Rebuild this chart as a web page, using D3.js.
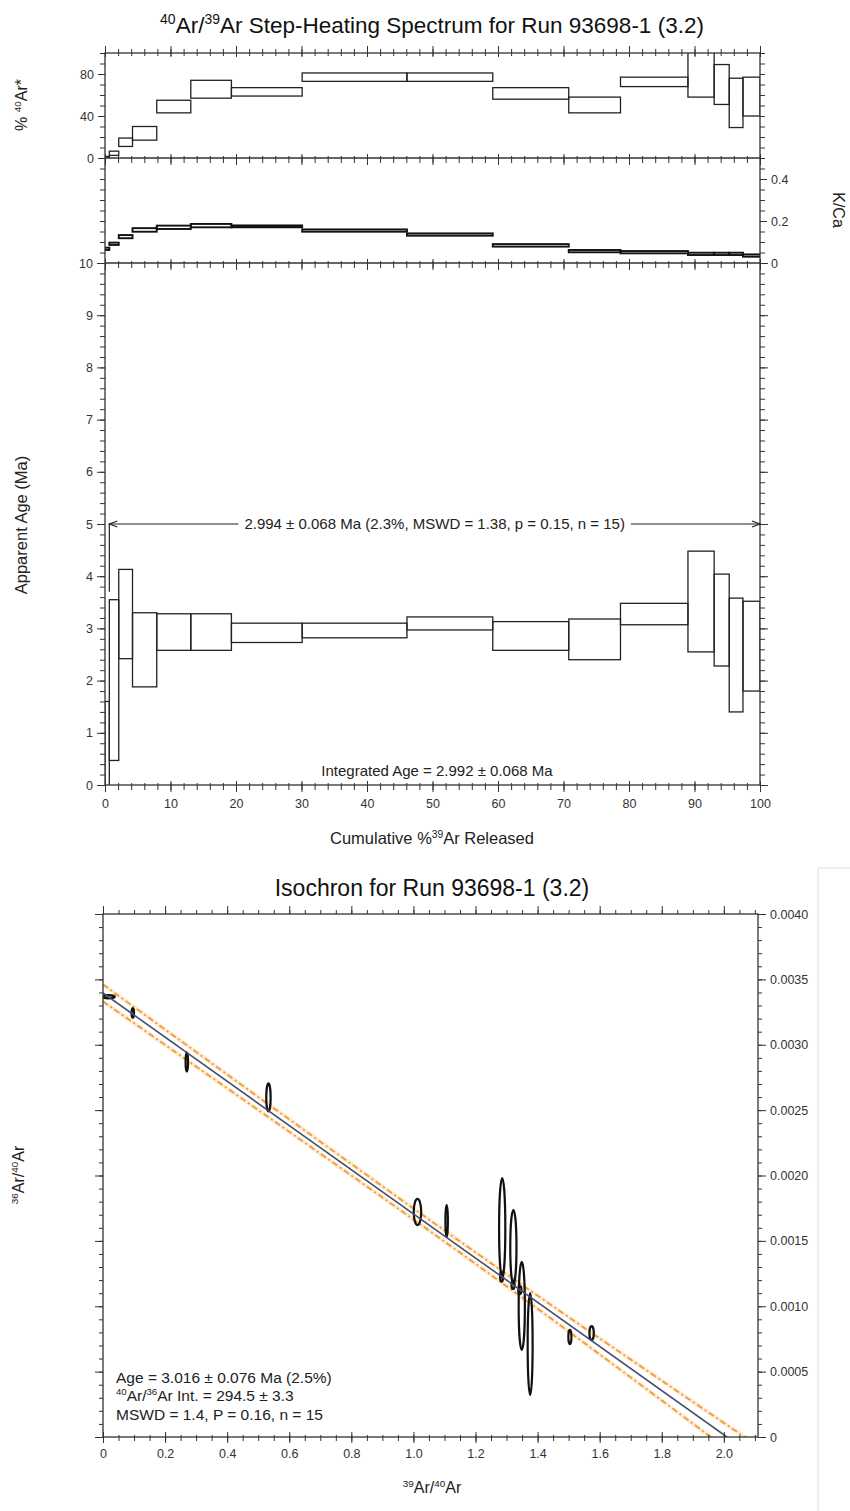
<!DOCTYPE html>
<html>
<head>
<meta charset="utf-8">
<script src="https://cdn.jsdelivr.net/npm/d3@7"></script>
<style>
  body { margin: 0; background: #fff; }
  svg { font-family: "Liberation Sans", Arial, Helvetica, sans-serif; }
  .box { fill: none; stroke: #222; stroke-width: 1.3; }
  .kc { fill: none; stroke: #111; stroke-width: 1.9; }
  .tick line { stroke: #333; }
  .tick text { font-size: 12.5px; fill: #333; }
  .frame { fill: none; stroke: #333; stroke-width: 1.3; }
</style>
</head>
<body>
<script>
// ---- step heating data (cumulative % 39Ar at step edges) ----
var stepEdges = [0, 0.66, 2.1, 4.2, 7.9, 13.1, 19.3, 30.1, 46.1, 59.2, 70.8, 78.7, 89.0, 93.0, 95.3, 97.4, 100];
var arLo = [0, 2.5, 11, 17, 43, 57, 59, 73, 73, 56, 43, 68, 58, 51, 29, 40];
var arHi = [1.5, 6.5, 19, 30, 55, 74, 67, 81, 81, 67, 58, 77, 105, 89, 76, 77];
var kcLo = [0.062, 0.086, 0.118, 0.149, 0.162, 0.170, 0.170, 0.149, 0.130, 0.078, 0.051, 0.046, 0.038, 0.038, 0.038, 0.030];
var kcHi = [0.073, 0.097, 0.133, 0.166, 0.178, 0.186, 0.179, 0.160, 0.141, 0.090, 0.062, 0.057, 0.049, 0.049, 0.049, 0.041];
var ageLo = [-1, 0.47, 2.42, 1.88, 2.58, 2.58, 2.73, 2.82, 2.97, 2.58, 2.40, 3.07, 2.55, 2.28, 1.40, 1.80];
var ageHi = [1.6, 3.55, 4.13, 3.30, 3.28, 3.28, 3.10, 3.10, 3.22, 3.13, 3.18, 3.48, 4.48, 4.04, 3.58, 3.52];
var plateauFrom = 0.66, plateauTo = 100, plateauLabelAge = 5.0;
var plateauText = "2.994 \u00b1 0.068 Ma (2.3%, MSWD = 1.38, p = 0.15, n = 15)";
var integratedText = "Integrated Age = 2.992 \u00b1 0.068 Ma";

// ---- isochron data ----
var isoX = [0.018, 0.096, 0.270, 0.533, 1.013, 1.107, 1.286, 1.322, 1.349, 1.376, 1.504, 1.574, 1.284, 1.321, 1.343];
var isoY = [0.003367, 0.003243, 0.002868, 0.002597, 0.001721, 0.001652, 0.001598, 0.001453, 0.001002, 0.000711, 0.000765, 0.000795, 0.001226, 0.001163, 0.001124];
var isoErrX = [0.02, 0.004, 0.004, 0.007, 0.012, 0.004, 0.010, 0.010, 0.010, 0.008, 0.005, 0.007, 0.005, 0.005, 0.005];
var isoErrY = [0.000012, 0.000038, 0.000073, 0.000107, 0.0001, 0.000122, 0.000382, 0.000283, 0.000337, 0.00039, 0.000054, 0.000054, 0.000038, 0.000031, 0.000031];
var fitLine = [[0, 0.003396], [2.01, 0]];
var envX = [0, 0.5, 1.0, 1.5, 2.11];
var envUpper = [0.003461, 0.002601, 0.001748, 0.000917, -0.000069];
var envLower = [0.003331, 0.002501, 0.001664, 0.000807, -0.000269];
var isoXTicks = [0, 0.2, 0.4, 0.6, 0.8, 1.0, 1.2, 1.4, 1.6, 1.8, 2.0];
var isoYTicks = [0, 0.0005, 0.001, 0.0015, 0.002, 0.0025, 0.003, 0.0035, 0.004];
var isoText = ["Age =  3.016 \u00b1 0.076 Ma (2.5%)", "Ar Int. =  294.5 \u00b1 3.3", "MSWD = 1.4,  P = 0.16, n = 15"];

var svg = d3.select("body").append("svg").attr("width", 850).attr("height", 1511);

// text with superscripts: parts = [[str, sup], ...]
function supText(g, parts, size) {
  var t = g.append("text").attr("font-size", size);
  var up = false;
  parts.forEach(function(p) {
    var s = t.append("tspan").text(p[0]);
    if (p[1] && !up) { s.attr("dy", -size * 0.38).attr("font-size", size * 0.62); up = true; }
    else if (p[1]) { s.attr("font-size", size * 0.62); }
    else if (up) { s.attr("dy", size * 0.38); up = false; }
  });
  return t;
}

function axis(g, fn, scale, vals, size, fmt, cross) {
  g.call(fn(scale).tickValues(vals).tickSize(size).tickPadding(4).tickFormat(fmt || ""));
  g.select(".domain").remove();
  if (cross) {
    var attr = (fn === d3.axisLeft || fn === d3.axisRight) ? "x1" : "y1";
    g.selectAll(".tick line").attr(attr, cross);
  }
  return g;
}
function rng(a, b, s) { return d3.range(0, Math.round((b - a) / s) + 1).map(function(i) { return a + i * s; }); }

// ================= STEP HEATING =================
var x = d3.scaleLinear().domain([0, 100]).range([105, 760]);
var yAr = d3.scaleLinear().domain([0, 100]).range([158, 53]);
var yKC = d3.scaleLinear().domain([0, 0.5]).range([263, 158]);
var yAge = d3.scaleLinear().domain([0, 10]).range([785, 263]);

supText(svg.append("g").attr("transform", "translate(432,33)").attr("text-anchor", "middle"),
  [["40", 1], ["Ar/", 0], ["39", 1], ["Ar Step-Heating Spectrum for Run 93698-1 (3.2)", 0]], 22.5)
  .attr("fill", "#111");

var defs = svg.append("defs");
function clip(id, y0, y1) {
  defs.append("clipPath").attr("id", id).append("rect")
    .attr("x", x(0)).attr("y", y0).attr("width", x(100) - x(0)).attr("height", y1 - y0);
}
clip("cAr", yAr(100), yAr(0)); clip("cKC", yKC(0.5), yKC(0)); clip("cAge", yAge(10), yAge(0));

var steps = d3.range(stepEdges.length - 1);
function boxes(cls, clipId, yS, lo, hi) {
  svg.append("g").attr("clip-path", "url(#" + clipId + ")").selectAll("rect").data(steps).enter()
    .append("rect").attr("class", cls)
    .attr("x", function(i) { return x(stepEdges[i]); })
    .attr("width", function(i) { return x(stepEdges[i + 1]) - x(stepEdges[i]); })
    .attr("y", function(i) { return yS(hi[i]); })
    .attr("height", function(i) { return yS(lo[i]) - yS(hi[i]); });
}
boxes("box", "cAr", yAr, arLo, arHi);
boxes("kc", "cKC", yKC, kcLo, kcHi);
boxes("box", "cAge", yAge, ageLo, ageHi);

// frames
svg.append("rect").attr("class", "frame").attr("x", x(0)).attr("y", yAr(100))
  .attr("width", x(100) - x(0)).attr("height", yAge(0) - yAr(100));
[yAr(0), yKC(0)].forEach(function(yy) {
  svg.append("line").attr("class", "frame").attr("x1", x(0)).attr("x2", x(100)).attr("y1", yy).attr("y2", yy);
});

// x ticks on each horizontal boundary
var xMinor = rng(0, 100, 2), xMajor = rng(0, 100, 10);
axis(svg.append("g").attr("transform", "translate(0," + yAr(100) + ")"), d3.axisTop, x, xMinor, 4, null, 3);
axis(svg.append("g").attr("transform", "translate(0," + yAr(100) + ")"), d3.axisTop, x, xMajor, 7, null, 4);
[yAr(0), yKC(0)].forEach(function(yy) {
  axis(svg.append("g").attr("transform", "translate(0," + yy + ")"), d3.axisBottom, x, xMinor, 5, null, -2);
  axis(svg.append("g").attr("transform", "translate(0," + yy + ")"), d3.axisBottom, x, xMajor, 7, null, -4);
});
axis(svg.append("g").attr("transform", "translate(0," + yAge(0) + ")"), d3.axisBottom, x, xMinor, 5, null, -2);
axis(svg.append("g").attr("transform", "translate(0," + yAge(0) + ")"), d3.axisBottom, x, xMajor, 7, d3.format("d"), -4)
  .selectAll("text").attr("dy", "0.95em");

// left axes
var L = svg.append("g").attr("transform", "translate(" + x(0) + ",0)");
axis(L.append("g"), d3.axisLeft, yAr, rng(0, 100, 10), 5);
axis(L.append("g"), d3.axisLeft, yAr, [0, 40, 80], 7, d3.format("d"));
axis(L.append("g"), d3.axisLeft, yKC, rng(0.05, 0.45, 0.05), 5);
axis(L.append("g"), d3.axisLeft, yAge, rng(0, 10, 0.2), 5);
axis(L.append("g"), d3.axisLeft, yAge, rng(0, 10, 1), 8, d3.format("d"));
// right axes
var R = svg.append("g").attr("transform", "translate(" + x(100) + ",0)");
axis(R.append("g"), d3.axisRight, yAr, rng(0, 100, 10), 5);
axis(R.append("g"), d3.axisRight, yKC, rng(0, 0.5, 0.05), 5);
axis(R.append("g"), d3.axisRight, yKC, [0, 0.2, 0.4], 7, function(d) { return d === 0 ? "0" : d.toFixed(1); });
axis(R.append("g"), d3.axisRight, yAge, rng(0, 10, 0.2), 5);
axis(R.append("g"), d3.axisRight, yAge, rng(0, 10, 1), 8);

// plateau bracket + arrow
var pa = yAge(plateauLabelAge), px0 = x(plateauFrom), px1 = x(plateauTo);
var pg = svg.append("g").attr("stroke", "#222").attr("stroke-width", 1.2).attr("fill", "none");
pg.append("line").attr("x1", px0).attr("x2", px0).attr("y1", pa).attr("y2", yAge(3.70));
var pt = svg.append("text").attr("x", (px0 + px1) / 2).attr("y", pa + 5).attr("text-anchor", "middle")
  .attr("font-size", 15).attr("fill", "#222").text(plateauText);
var tw = pt.node().getComputedTextLength(), cx = (px0 + px1) / 2;
pg.append("line").attr("x1", px0).attr("x2", cx - tw / 2 - 6).attr("y1", pa).attr("y2", pa);
pg.append("line").attr("x1", cx + tw / 2 + 6).attr("x2", px1).attr("y1", pa).attr("y2", pa);
pg.append("path").attr("d", "M" + (px0 + 8) + "," + (pa - 3) + "L" + px0 + "," + pa + "L" + (px0 + 8) + "," + (pa + 3));
pg.append("path").attr("d", "M" + (px1 - 8) + "," + (pa - 3) + "L" + px1 + "," + pa + "L" + (px1 - 8) + "," + (pa + 3));

svg.append("text").attr("x", 437).attr("y", 776).attr("text-anchor", "middle").attr("font-size", 15)
  .attr("fill", "#222").text(integratedText);

// axis titles
supText(svg.append("g").attr("transform", "translate(27,105) rotate(-90)").attr("text-anchor", "middle"),
  [["% ", 0], ["40", 1], ["Ar*", 0]], 16).attr("fill", "#222");
svg.append("text").attr("transform", "translate(833,210) rotate(90)").attr("text-anchor", "middle")
  .attr("font-size", 16).attr("fill", "#222").text("K/Ca");
svg.append("text").attr("transform", "translate(27,525) rotate(-90)").attr("text-anchor", "middle")
  .attr("font-size", 16.5).attr("fill", "#222").text("Apparent Age (Ma)");
supText(svg.append("g").attr("transform", "translate(432,844)").attr("text-anchor", "middle"),
  [["Cumulative %", 0], ["39", 1], ["Ar Released", 0]], 16.5).attr("fill", "#222");

// ================= ISOCHRON =================
var xi = d3.scaleLinear().domain([0, 2.11]).range([103, 758]);
var yi = d3.scaleLinear().domain([0, 0.004]).range([1437, 914]);

svg.append("text").attr("x", 432).attr("y", 896).attr("text-anchor", "middle").attr("font-size", 23)
  .attr("fill", "#111").text("Isochron for Run 93698-1 (3.2)");

// faint frame on the right of the screenshot
svg.append("path").attr("d", "M850,868H818V1511").attr("fill", "none").attr("stroke", "#ddd");

defs.append("clipPath").attr("id", "cIso").append("rect")
  .attr("x", xi(0)).attr("y", yi(0.004)).attr("width", xi(2.11) - xi(0)).attr("height", yi(0) - yi(0.004));
var ig = svg.append("g").attr("clip-path", "url(#cIso)");

var envLine = d3.line().x(function(d) { return xi(d[0]); }).y(function(d) { return yi(d[1]); }).curve(d3.curveNatural);
[envUpper, envLower].forEach(function(arr) {
  var pts = envX.map(function(v, i) { return [v, arr[i]]; });
  ig.append("path").attr("d", envLine(pts)).attr("fill", "none").attr("stroke", "#fbd7a8")
    .attr("stroke-width", 4).attr("opacity", 0.5);
  ig.append("path").attr("d", envLine(pts)).attr("fill", "none").attr("stroke", "#f29b35")
    .attr("stroke-width", 1.8).attr("stroke-dasharray", "6,3,2,3");
});

ig.selectAll("ellipse").data(d3.range(isoX.length)).enter().append("ellipse")
  .attr("cx", function(i) { return xi(isoX[i]); })
  .attr("cy", function(i) { return yi(isoY[i]); })
  .attr("rx", function(i) { return xi(isoErrX[i]) - xi(0); })
  .attr("ry", function(i) { return yi(0) - yi(isoErrY[i]); })
  .attr("fill", "none").attr("stroke", "#111").attr("stroke-width", 2.2);

ig.append("path").attr("d", d3.line().x(function(d) { return xi(d[0]); }).y(function(d) { return yi(d[1]); })(fitLine))
  .attr("fill", "none").attr("stroke", "#44506e").attr("stroke-width", 1.6);

svg.append("rect").attr("class", "frame").attr("x", xi(0)).attr("y", yi(0.004))
  .attr("width", xi(2.11) - xi(0)).attr("height", yi(0) - yi(0.004));

var ixMinor = rng(0, 2.1, 0.05);
axis(svg.append("g").attr("transform", "translate(0," + yi(0.004) + ")"), d3.axisTop, xi, ixMinor, 4);
axis(svg.append("g").attr("transform", "translate(0," + yi(0.004) + ")"), d3.axisTop, xi, isoXTicks, 8);
axis(svg.append("g").attr("transform", "translate(0," + yi(0) + ")"), d3.axisBottom, xi, ixMinor, 4, null, -2);
axis(svg.append("g").attr("transform", "translate(0," + yi(0) + ")"), d3.axisBottom, xi, isoXTicks, 6,
  function(d) { return d === 0 ? "0" : d.toFixed(1); }, -5).selectAll("text").attr("dy", "0.85em");
var iyMinor = rng(0, 0.004, 0.0001);
axis(svg.append("g").attr("transform", "translate(" + xi(0) + ",0)"), d3.axisLeft, yi, iyMinor, 4);
axis(svg.append("g").attr("transform", "translate(" + xi(0) + ",0)"), d3.axisLeft, yi, isoYTicks, 8);
axis(svg.append("g").attr("transform", "translate(" + xi(2.11) + ",0)"), d3.axisRight, yi, iyMinor, 4);
axis(svg.append("g").attr("transform", "translate(" + xi(2.11) + ",0)"), d3.axisRight, yi, isoYTicks, 8,
  function(d) { return d === 0 ? "0" : d.toFixed(4); });

// stats text
var st = svg.append("g").attr("fill", "#222");
st.append("text").attr("x", 116).attr("y", 1383).attr("font-size", 15.5).text(isoText[0]);
supText(st.append("g").attr("transform", "translate(116,1401)"),
  [["40", 1], ["Ar/", 0], ["36", 1], [isoText[1], 0]], 15.5);
st.append("text").attr("x", 116).attr("y", 1420).attr("font-size", 15.5).text(isoText[2]);

// axis titles
supText(svg.append("g").attr("transform", "translate(24,1175) rotate(-90)").attr("text-anchor", "middle"),
  [["36", 1], ["Ar/", 0], ["40", 1], ["Ar", 0]], 16).attr("fill", "#222");
supText(svg.append("g").attr("transform", "translate(432,1493)").attr("text-anchor", "middle"),
  [["39", 1], ["Ar/", 0], ["40", 1], ["Ar", 0]], 16).attr("fill", "#222");
</script>
</body>
</html>
